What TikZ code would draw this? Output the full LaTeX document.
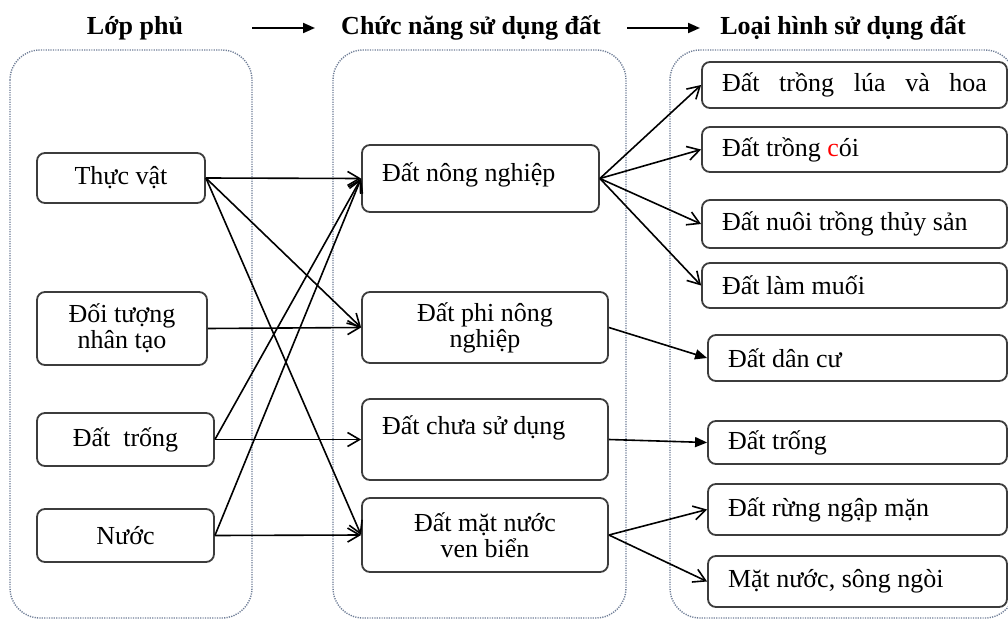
\documentclass[tikz,border=0pt]{standalone}
\usepackage{fontspec}
\setmainfont{Liberation Serif}
\usepackage{xcolor}
\usepackage{tikz}
\usetikzlibrary{positioning,arrows.meta}
\definecolor{dotblue}{RGB}{110,125,150}
\definecolor{boxgray}{RGB}{60,60,60}

\begin{document}
\begin{tikzpicture}[x=0.5pt, y=-0.5pt,
    font=\fontsize{13}{13}\selectfont,
    group/.style={draw=dotblue, dash pattern=on 0.6pt off 0.6pt, line width=0.7pt, rounded corners=15pt},
    item/.style={draw=boxgray, line width=0.9pt, rounded corners=4pt, inner sep=0pt, align=center},
    kind/.style={draw=boxgray, line width=0.9pt, rounded corners=4pt, inner ysep=0pt, inner xsep=10pt, align=flush left},
    link/.style={-{Straight Barb[length=6pt,width=7pt]}, line width=0.8pt},
    flow/.style={-{Triangle[length=6pt,width=5pt]}, line width=0.8pt}]
\useasboundingbox (0,0) rectangle (1008,621);
\clip (0,0) rectangle (1008,621);

% Dotted groups
\foreach \xa/\xb in {10/252, 333/626, 670/1015}
    \draw[group] (\xa,50) rectangle (\xb,618);

% Headers
\node (cover) at (135,28) {\textbf{Lớp phủ}};
\node (func) at (471,28) {\textbf{Chức năng sử dụng đất}};
\node (type) at (843,28) {\textbf{Loại hình sử dụng đất}};
\coordinate (h1a) at (252,28);
\coordinate (h1b) at (315,28);
\coordinate (h2a) at (627,28);
\coordinate (h2b) at (700,28);
\draw[flow, line width=1pt] (h1a) -- (h1b);
\draw[flow, line width=1pt] (h2a) -- (h2b);

% Cover classes
\node[item, minimum width=84pt, minimum height=25pt] (veg) at (121,178) {Thực vật};
\node[item, minimum width=85pt, minimum height=36.5pt] (art) at (122,328.5) {Đối tượng\\nhân tạo};
\node[item, minimum width=88.5pt, minimum height=26.5pt] (bare) at (125.5,439.5) {Đất~~trống};
\node[item, minimum width=88.5pt, minimum height=26.5pt] (water) at (125.5,535.5) {Nước};

% Land functions
\node[kind, text width=98.5pt, minimum height=33.5pt] (agri) at (480.5,178.5) {\raisebox{6.5pt}{Đất nông nghiệp}};
\node[item, minimum width=123pt, minimum height=35.5pt] (nonagri) at (485,327.5) {Đất phi nông\\nghiệp};
\node[kind, text width=103pt, minimum height=40.5pt] (unused) at (485,439.5) {\raisebox{14.5pt}{Đất chưa sử dụng}};
\node[item, minimum width=123pt, minimum height=37pt] (coast) at (485,535) {Đất mặt nước\\ven biển};

% Land use types
\node[kind, text width=132.5pt, minimum height=23pt] (rice) at (854.5,85) {\makebox[\linewidth][s]{Đất trồng lúa và hoa}};
\node[kind, text width=132.5pt, minimum height=22.5pt] (sedge) at (854.5,149.5) {Đất trồng \textcolor{red}{c}ói};
\node[kind, text width=132.5pt, minimum height=24pt] (aqua) at (854.5,224) {Đất nuôi trồng thủy sản};
\node[kind, text width=132.5pt, minimum height=22.5pt] (salt) at (854.5,285.5) {Đất làm muối};
\node[kind, text width=129.5pt, minimum height=23pt] (resid) at (857.5,358) {Đất dân cư};
\node[kind, text width=129.5pt, minimum height=21.5pt] (empty) at (857.5,442.5) {Đất trống};
\node[kind, text width=129.5pt, minimum height=25.5pt] (mangr) at (857.5,509.5) {Đất rừng ngập mặn};
\node[kind, text width=129.5pt, minimum height=25.5pt] (river) at (857.5,581.5) {Mặt nước, sông ngòi};

% Cover to function
\foreach \a/\b in {veg/agri, veg/nonagri, veg/coast, art/nonagri, bare/agri, bare/unused, water/agri, water/coast}
    \draw[link] (\a.east) -- (\b.west);

% Function to type
\foreach \b in {rice, sedge, aqua, salt}
    \draw[link] (agri.east) -- (\b.west);
\draw[flow] (nonagri.east) -- (resid.west);
\draw[flow] (unused.east) -- (empty.west);
\draw[link] (coast.east) -- (mangr.west);
\draw[link] (coast.east) -- (river.west);
\end{tikzpicture}
\end{document}
